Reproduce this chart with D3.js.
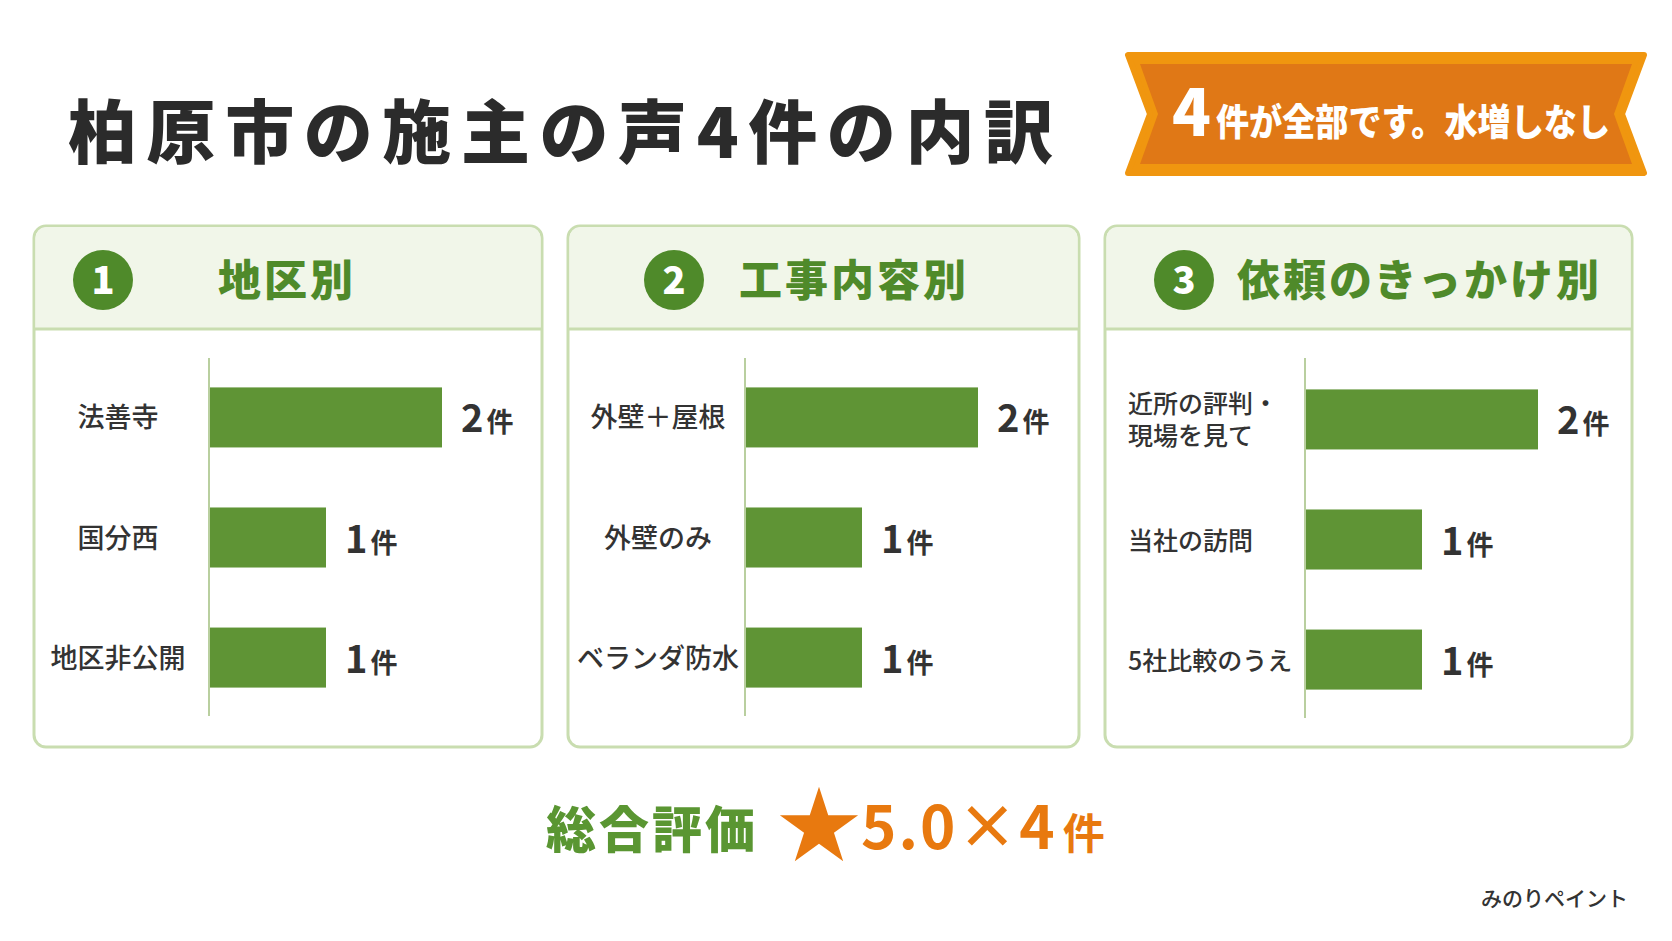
<!DOCTYPE html>
<html><head><meta charset="utf-8">
<script src="https://cdn.jsdelivr.net/npm/d3@7"></script>
<style>body{margin:0;background:#fff}svg{display:block}</style>
</head><body><svg id="c" width="1672" height="941"></svg>
<script>
const titleText = "柏原市の施主の声4件の内訳";
const bannerText = ["4", "件が全部です。水増しなし"];
const panelTitles = ["地区別", "工事内容別", "依頼のきっかけ別"];
const cats1 = ["法善寺", "国分西", "地区非公開"];
const vals1 = [2, 1, 1];
const cats2 = ["外壁＋屋根", "外壁のみ", "ベランダ防水"];
const vals2 = [2, 1, 1];
const cats3 = ["近所の評判・\n現場を見て", "当社の訪問", "5社比較のうえ"];
const vals3 = [2, 1, 1];
const unit = "件";
const ratingLabel = "総合評価";
const ratingValue = "5.0×4";
const brand = "みのりペイント";

const svg = d3.select("#c");
const F = "'Noto Sans CJK JP','Noto Sans',sans-serif";
const G = "#5f9435", DG = "#4f8a2a", T = "#333";

svg.append("text").attr("x",68).attr("y",158).attr("font-family",F).attr("font-weight",900)
  .attr("font-size",69).attr("fill","#2b2b2b").attr("textLength",985).attr("lengthAdjust","spacing").text(titleText);

// banner
const bx0=1128,bx1=1644,by0=55,by1=173,notch=22;
const bpath = (a,b,c,d,n)=>`M${a},${b}L${c},${b}L${c-n},${(b+d)/2}L${c},${d}L${a},${d}L${a+n},${(b+d)/2}Z`;
svg.append("path").attr("d",bpath(bx0,by0,bx1,by1,notch)).attr("fill","#f0960f").attr("stroke","#f0960f").attr("stroke-width",6).attr("stroke-linejoin","round");
svg.append("path").attr("d",bpath(bx0+12,by0+9,bx1-12,by1-9,notch-4)).attr("fill","#e07816");
const bt = svg.append("text").attr("y",136).attr("font-family",F).attr("font-weight",900).attr("fill","#fff");
bt.append("tspan").attr("x",1172).attr("font-size",64).text(bannerText[0]);
bt.append("tspan").attr("x",1216).attr("font-size",37).attr("textLength",394).attr("lengthAdjust","spacingAndGlyphs").text(bannerText[1]);

const panels = [
 {x0:34,x1:542,cats:cats1,vals:vals1,axis:209,circ:103,tx:287,anchor:"middle",lx:118,la:"middle",dy:0},
 {x0:568,x1:1079,cats:cats2,vals:vals2,axis:745,circ:674,tx:739,anchor:"start",lx:658,la:"middle",dy:0},
 {x0:1105,x1:1632,cats:cats3,vals:vals3,axis:1305,circ:1184,tx:1237,anchor:"start",lx:1128,la:"start",dy:2}
];
const unitW = 116;
panels.forEach((p,i)=>{
  const g = svg.append("g");
  g.append("rect").attr("x",p.x0).attr("y",226).attr("width",p.x1-p.x0).attr("height",521).attr("rx",12)
   .attr("fill","#fff").attr("stroke","#c9ddb0").attr("stroke-width",3);
  g.append("path").attr("d",`M${p.x0+1.5},329V238a11,11 0 0 1 11,-11H${p.x1-12.5}a11,11 0 0 1 11,11V329Z`).attr("fill","#f1f6e9");
  g.append("line").attr("x1",p.x0).attr("x2",p.x1).attr("y1",329).attr("y2",329).attr("stroke","#c9ddb0").attr("stroke-width",3);
  g.append("circle").attr("cx",p.circ).attr("cy",280).attr("r",30).attr("fill",DG);
  g.append("text").attr("x",p.circ).attr("y",294).attr("text-anchor","middle").attr("font-family",F).attr("font-weight",900)
   .attr("font-size",38).attr("fill","#fff").text(i+1);
  g.append("text").attr("x",p.tx).attr("y",296).attr("text-anchor",p.anchor).attr("font-family",F).attr("font-weight",900)
   .attr("font-size",43).attr("fill",DG).attr("letter-spacing",3).text(panelTitles[i]);
  const y = d3.scaleBand().domain(p.cats).range([367+p.dy,708+p.dy]).paddingInner(0.5).paddingOuter(0.17);
  const x = d3.scaleLinear().domain([0,1]).range([p.axis+1,p.axis+1+unitW]);
  g.append("line").attr("x1",p.axis).attr("x2",p.axis).attr("y1",358).attr("y2",716+p.dy).attr("stroke","#b9cf9f").attr("stroke-width",2);
  p.cats.forEach((c,j)=>{
    const yy=y(c), h=y.bandwidth(), v=p.vals[j];
    g.append("rect").attr("x",x(0)).attr("y",yy).attr("width",x(v)-x(0)).attr("height",h).attr("fill",G);
    const lines=c.split("\n");
    lines.forEach((ln,k)=>{
      g.append("text").attr("x",p.lx).attr("y",yy+h/2+10+(k-(lines.length-1)/2)*32)
       .attr("text-anchor",p.la).attr("font-family",F).attr("font-weight",500).attr("font-size",i==2?25:27).attr("fill",T).text(ln);
    });
    const vt=g.append("text").attr("x",x(v)+19).attr("y",yy+h/2+15).attr("font-family",F).attr("fill",T).attr("font-weight",700);
    vt.append("tspan").attr("font-size",38).text(v);
    vt.append("tspan").attr("font-size",27).attr("dx",3).text(unit);
  });
});

svg.append("text").attr("x",546).attr("y",848).attr("font-family",F).attr("font-weight",900).attr("font-size",50)
  .attr("fill","#5a9632").attr("letter-spacing",3).text(ratingLabel);
svg.append("path").attr("d",d3.symbol(d3.symbolStar,1900)()).attr("transform","translate(819,828)").attr("fill","#e8790f");
const rt=svg.append("text").attr("x",861).attr("y",849).attr("font-family",F).attr("font-weight",700).attr("fill","#e8790f");
rt.append("tspan").attr("font-size",60).attr("letter-spacing",2).text(ratingValue);
rt.append("tspan").attr("font-size",42).attr("dx",6).text(unit);
svg.append("text").attr("x",1628).attr("y",906).attr("text-anchor","end").attr("font-family",F).attr("font-weight",500)
  .attr("font-size",21).attr("fill",T).text(brand);
</script></body></html>
